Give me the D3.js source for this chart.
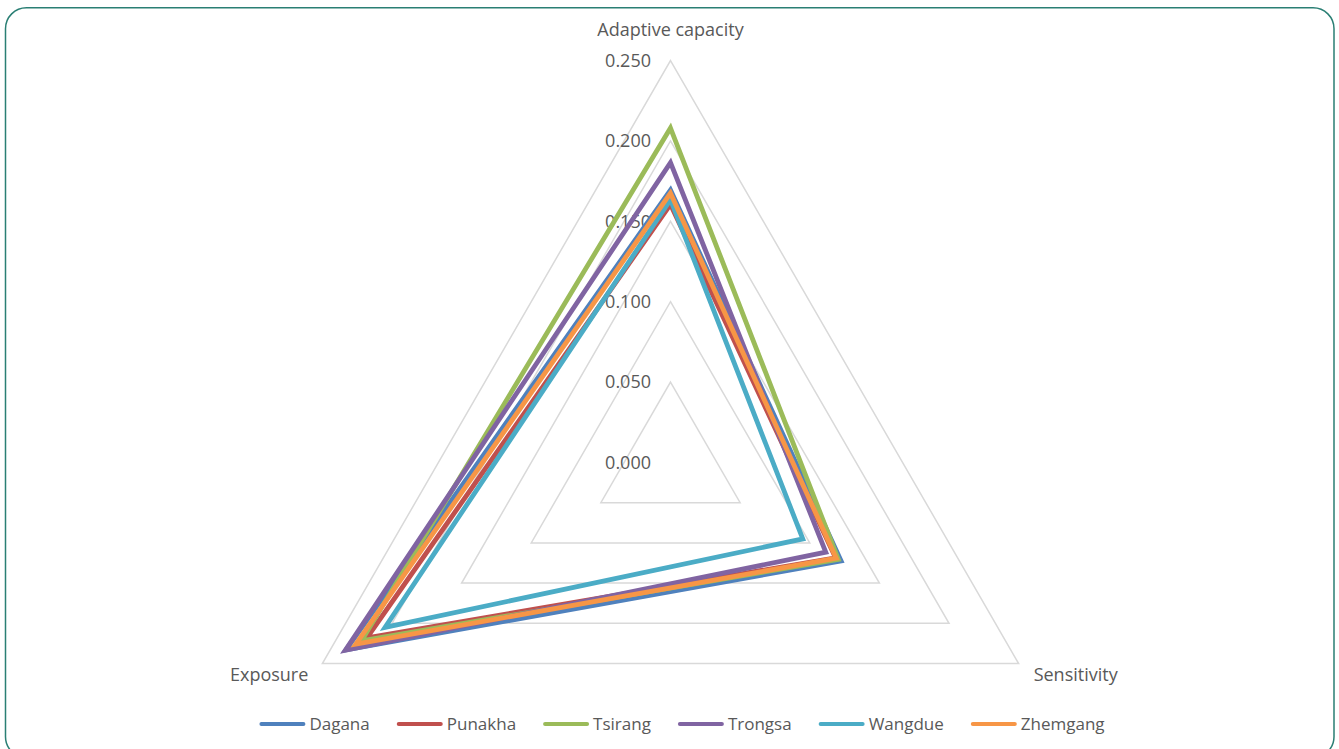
<!DOCTYPE html>
<html>
<head>
<meta charset="utf-8">
<script src="https://cdn.jsdelivr.net/npm/d3@7"></script>
<style>
  html, body { margin: 0; padding: 0; background: #fff; }
  svg { display: block; }
  text { font-family: "Open Sans", "Noto Sans", sans-serif; fill: #595959; }
</style>
</head>
<body>
<svg id="chart" width="1339" height="749"></svg>
<script>
const axes = ["Adaptive capacity", "Sensitivity", "Exposure"];
const seriesNames = ["Dagana", "Punakha", "Tsirang", "Trongsa", "Wangdue", "Zhemgang"];
const seriesColors = ["#4F81BD", "#C0504D", "#9BBB59", "#8064A2", "#4BACC6", "#F79646"];
// values per series: [Adaptive capacity, Sensitivity, Exposure]
const dagana   = [0.1695, 0.1225, 0.233];
const punakha  = [0.1605, 0.1185, 0.218];
const tsirang  = [0.208, 0.1205, 0.222];
const trongsa  = [0.1865, 0.1115, 0.2335];
const wangdue  = [0.1635, 0.095, 0.205];
const zhemgang = [0.1675, 0.119, 0.226];
const tickValues = [0, 0.05, 0.10, 0.15, 0.20, 0.25];

const seriesValues = [dagana, punakha, tsirang, trongsa, wangdue, zhemgang];

const svg = d3.select("#chart");

// frame
svg.append("rect")
  .attr("x", 5.5).attr("y", 7.7)
  .attr("width", 1328.5).attr("height", 750)
  .attr("rx", 21).attr("ry", 21)
  .attr("fill", "#fff")
  .attr("stroke", "#2A7F74")
  .attr("stroke-width", 1.5);

const cx = 670.5, cy = 462.5, R = 402;
const r = d3.scaleLinear().domain([0, 0.25]).range([0, R]);
const angle = i => i * 2 * Math.PI / axes.length;
const pt = (i, v) => [cx + Math.sin(angle(i)) * r(v), cy - Math.cos(angle(i)) * r(v)];

const g = svg.append("g");

// grid rings
tickValues.filter(t => t > 0).forEach(t => {
  g.append("path")
    .attr("d", d3.line()(axes.map((a, i) => pt(i, t))) + "Z")
    .attr("fill", "none")
    .attr("stroke", "#D9D9D9")
    .attr("stroke-width", 1.5);
});

// tick labels
const fmt = d3.format(".3f");
tickValues.forEach(t => {
  g.append("text")
    .attr("x", cx - 19.5)
    .attr("y", cy - r(t))
    .attr("dy", "0.35em")
    .attr("text-anchor", "end")
    .attr("font-size", 18)
    .text(fmt(t));
});

// series
const lineGen = d3.line();
seriesValues.forEach((vals, s) => {
  g.append("path")
    .attr("d", lineGen(vals.map((v, i) => pt(i, v))) + "Z")
    .attr("fill", "none")
    .attr("stroke", seriesColors[s])
    .attr("stroke-width", 4.8)
    .attr("stroke-linejoin", "miter")
    .attr("stroke-miterlimit", 10);
});

// category labels
const outer = axes.map((a, i) => pt(i, 0.25));
g.append("text").attr("x", outer[0][0]).attr("y", outer[0][1] - 24.5)
  .attr("text-anchor", "middle").attr("font-size", 18).text(axes[0]);
g.append("text").attr("x", outer[1][0] + 15).attr("y", outer[1][1] + 17)
  .attr("text-anchor", "start").attr("font-size", 18).text(axes[1]);
g.append("text").attr("x", outer[2][0] - 14).attr("y", outer[2][1] + 17)
  .attr("text-anchor", "end").attr("font-size", 18).text(axes[2]);

// legend
const leg = svg.append("g");
const lineLen = 46, lineGap = 4, itemGap = 27, legY = 724;
const items = seriesNames.map((name, s) => {
  const t = leg.append("text").attr("font-size", 17).attr("y", legY).attr("dy", "0.35em").text(name);
  return { t, w: t.node().getComputedTextLength(), s };
});
const total = items.reduce((acc, it) => acc + lineLen + lineGap + it.w, 0) + itemGap * (items.length - 1);
let x = 682 - total / 2;
items.forEach(it => {
  leg.append("line")
    .attr("x1", x + 2).attr("x2", x + lineLen - 2)
    .attr("y1", legY).attr("y2", legY)
    .attr("stroke", seriesColors[it.s])
    .attr("stroke-width", 4)
    .attr("stroke-linecap", "round");
  it.t.attr("x", x + lineLen + lineGap);
  x += lineLen + lineGap + it.w + itemGap;
});
</script>
</body>
</html>
